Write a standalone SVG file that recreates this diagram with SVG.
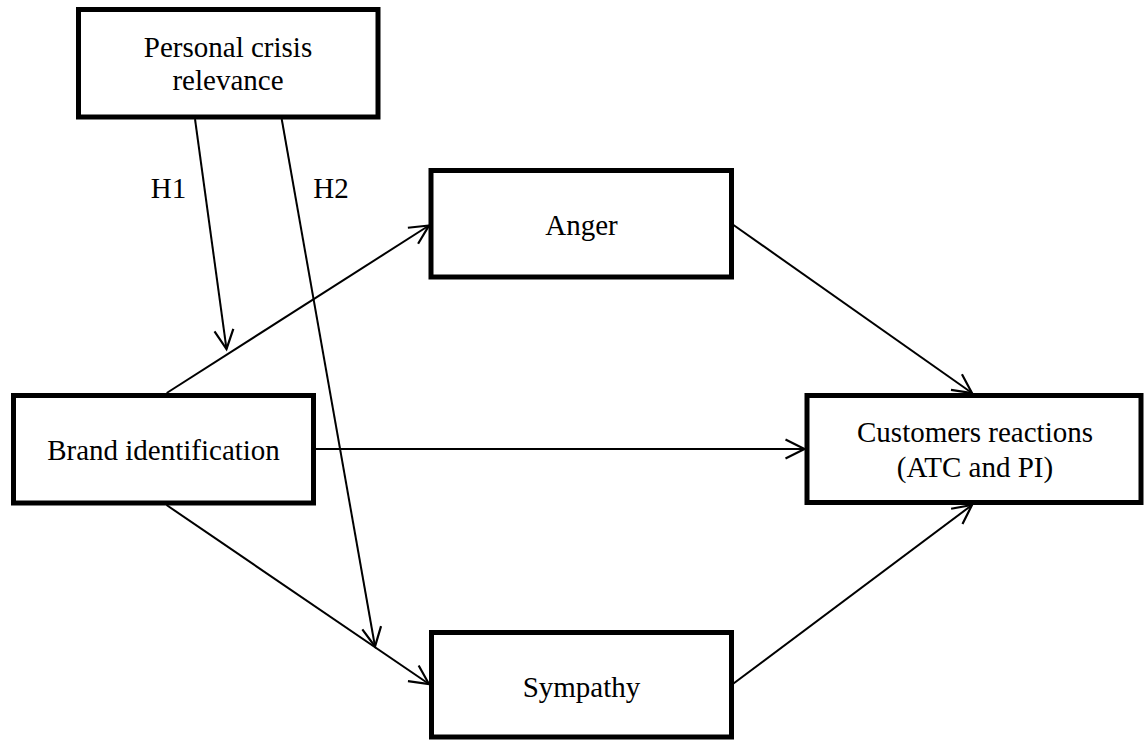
<svg xmlns="http://www.w3.org/2000/svg" width="1144" height="740" viewBox="0 0 1144 740">
<style>
.box{fill:#fff;stroke:#000;stroke-width:5}
.t{font-family:"Liberation Serif","Times New Roman",serif;font-size:29px;fill:#000;text-anchor:middle}
.c{stroke:#000;stroke-width:2;fill:none;marker-end:url(#arr)}
</style>
<defs>
<marker id="arr" markerUnits="userSpaceOnUse" markerWidth="24" markerHeight="24" viewBox="-21 -12 24 24" refX="0" refY="0" orient="auto">
<path d="M-19,-9.5 L0,0 L-19,9.5" fill="none" stroke="#000" stroke-width="2.2"/>
</marker>
</defs>
<rect width="1144" height="740" fill="#fff"/>
<g id="connectors">
<line class="c" x1="195" y1="119" x2="226.5" y2="349"/>
<line class="c" x1="281.7" y1="119" x2="375" y2="646.5"/>
<line class="c" x1="166.7" y1="393" x2="429" y2="225.5"/>
<line class="c" x1="166.5" y1="505" x2="429" y2="684"/>
<line class="c" x1="316" y1="449" x2="804.5" y2="449"/>
<line class="c" x1="733.5" y1="225" x2="972" y2="393"/>
<line class="c" x1="733.5" y1="683.5" x2="972" y2="505"/>
</g>
<g id="personal">
<rect class="box" x="78.5" y="9.5" width="299.5" height="107.5"/>
<text class="t" x="228" y="56.7">Personal crisis</text>
<text class="t" x="228" y="90">relevance</text>
</g>
<g id="anger">
<rect class="box" x="431" y="170.5" width="300.5" height="106.5"/>
<text class="t" x="581.5" y="235">Anger</text>
</g>
<g id="brand">
<rect class="box" x="13.5" y="395.5" width="300" height="107.5"/>
<text class="t" x="163.5" y="460">Brand identification</text>
</g>
<g id="customers">
<rect class="box" x="807" y="395.5" width="334" height="107"/>
<text class="t" x="975" y="441.7">Customers reactions</text>
<text class="t" x="975" y="476.7">(ATC and PI)</text>
</g>
<g id="sympathy">
<rect class="box" x="431.5" y="632.5" width="300" height="104.5"/>
<text class="t" x="581.5" y="696.7">Sympathy</text>
</g>
<g id="labels">
<text class="t" x="168.5" y="198.3">H1</text>
<text class="t" x="331" y="198.3">H2</text>
</g>
</svg>
